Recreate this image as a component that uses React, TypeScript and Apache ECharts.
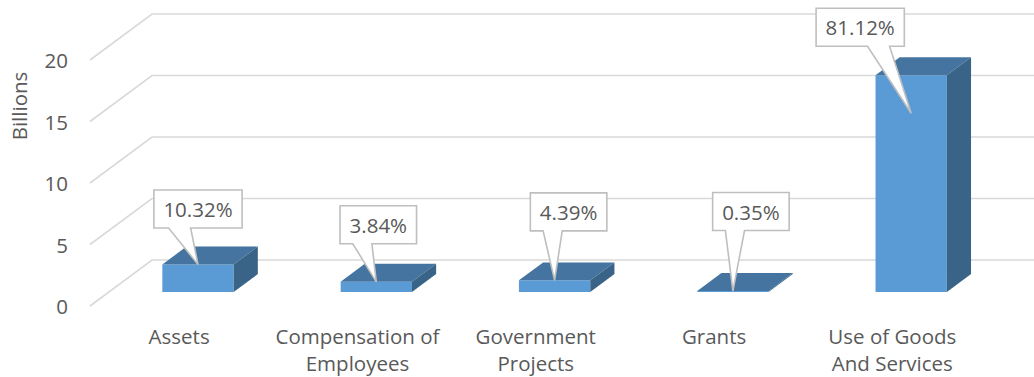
import React, { useEffect, useRef } from "react";
import * as echarts from "echarts";

// ---- data ----
const categories = [
  "Assets",
  "Compensation of\nEmployees",
  "Government\nProjects",
  "Grants",
  "Use of Goods\nAnd Services",
];
const values = [2.24, 0.83, 0.95, 0.08, 17.62]; // billions
const percentLabels = ["10.32%", "3.84%", "4.39%", "0.35%", "81.12%"];
const yTicks = [0, 5, 10, 15, 20];

// ---- layout (not data) ----
const calloutOffsets = [
  [0, -55.5],
  [2, -57],
  [14, -68.5],
  [18, -79.5],
  [-51, -48],
];
const calloutTipDy = [0, 0, 0, 0, 38];

const FONT = '"Open Sans", sans-serif';
const FS = 20.5;
const TXT = "#595959";
const GRID_C = "#D9D9D9";
const FRONT_C = "#5B9BD5";
const TOP_C = "#44749F";
const SIDE_C = "#3A6487";
const WALL_DX = 62;
const WALL_DY = -46;
const FRONT_F = 0.304;
const BAR_DEPTH = 0.39;

let measureCtx: CanvasRenderingContext2D | null = null;
function textWidth(s: string): number {
  if (!measureCtx) {
    measureCtx = document.createElement("canvas").getContext("2d");
  }
  if (!measureCtx) return s.length * FS * 0.6;
  measureCtx.font = `${FS}px "Open Sans"`;
  return measureCtx.measureText(s).width;
}

export default function App() {
  const ref = useRef<HTMLDivElement>(null);

  useEffect(() => {
    if (!ref.current) return;
    const chart = echarts.init(ref.current, undefined, { renderer: "svg" });

    const renderGrid = (params: any, api: any) => {
      const t = api.value(1);
      const y = api.coord([0, t])[1];
      const slot = api.size([1, 0])[0];
      const x0 = api.coord([0, 0])[0] - slot / 2;
      const xEnd = x0 + slot * categories.length + WALL_DX;
      return {
        type: "polyline",
        shape: {
          points: [
            [x0, y],
            [x0 + WALL_DX, y + WALL_DY],
            [xEnd, y + WALL_DY],
          ],
        },
        style: { stroke: GRID_C, lineWidth: 1.6, fill: "none" },
      };
    };

    const barGeom = (api: any) => {
      const idx = api.value(0);
      const v = api.value(1);
      const [cx, y0] = api.coord([idx, 0]);
      const y1 = api.coord([idx, v])[1];
      const slot = api.size([1, 0])[0];
      const w = slot * 0.4;
      const fx = WALL_DX * FRONT_F;
      const fy = WALL_DY * FRONT_F;
      return {
        idx,
        l: cx - w / 2 + fx,
        r: cx + w / 2 + fx,
        cx: cx + fx,
        b: y0 + fy,
        t: y1 + fy,
        w,
      };
    };

    const renderBar = (params: any, api: any) => {
      const g = barGeom(api);
      const ddx = WALL_DX * BAR_DEPTH;
      const ddy = WALL_DY * BAR_DEPTH;
      return {
        type: "group",
        children: [
          {
            type: "rect",
            shape: { x: g.l, y: g.t, width: g.w, height: Math.max(0, g.b - g.t) },
            style: { fill: FRONT_C },
          },
          {
            type: "polygon",
            shape: {
              points: [
                [g.l, g.t],
                [g.r, g.t],
                [g.r + ddx, g.t + ddy],
                [g.l + ddx, g.t + ddy],
              ],
            },
            style: { fill: TOP_C },
          },
          {
            type: "polygon",
            shape: {
              points: [
                [g.r, g.t],
                [g.r, g.b],
                [g.r + ddx, g.b + ddy],
                [g.r + ddx, g.t + ddy],
              ],
            },
            style: { fill: SIDE_C },
          },
        ],
      };
    };

    const renderCallout = (params: any, api: any) => {
      const g = barGeom(api);
      const i = g.idx;
      const label = percentLabels[i];
      const bw = textWidth(label) + 19;
      const bh = 38;
      const bcx = g.cx + calloutOffsets[i][0];
      const bcy = g.t + calloutOffsets[i][1];
      const L = bcx - bw / 2;
      const R = bcx + bw / 2;
      const T = bcy - bh / 2;
      const B = bcy + bh / 2;
      const tipX = g.cx;
      const tipY = g.t + calloutTipDy[i];
      let b1: number, b2: number;
      if (tipX > bcx + 1) {
        b1 = L + (bw * 7) / 12;
        b2 = L + (bw * 10) / 12;
      } else {
        b1 = L + (bw * 2) / 12;
        b2 = L + (bw * 5) / 12;
      }
      return {
        type: "group",
        children: [
          {
            type: "polygon",
            shape: {
              points: [
                [L, T],
                [R, T],
                [R, B],
                [b2, B],
                [tipX, tipY],
                [b1, B],
                [L, B],
              ],
            },
            style: { fill: "#FFFFFF", stroke: "#BFBFBF", lineWidth: 1.6 },
          },
          {
            type: "text",
            x: bcx,
            y: bcy,
            style: {
              text: label,
              fill: TXT,
              fontSize: FS,
              fontFamily: FONT,
              align: "center",
              verticalAlign: "middle",
            },
          },
        ],
      };
    };

    const barData = categories.map((_, i) => [i, values[i]]);

    chart.setOption({
      animation: false,
      grid: {
        left: 90,
        right: 52.5,
        top: 60,
        bottom: 71,
        containLabel: false,
        outerBoundsMode: "none",
      },
      xAxis: {
        type: "category",
        data: categories,
        axisLine: { show: false },
        axisTick: { show: false },
        splitLine: { show: false },
        axisLabel: {
          color: TXT,
          fontSize: FS,
          fontFamily: FONT,
          lineHeight: 27,
          margin: 16,
          interval: 0,
        },
      },
      yAxis: {
        type: "value",
        min: 0,
        max: 20,
        interval: 5,
        axisLine: { show: false },
        axisTick: { show: false },
        splitLine: { show: false },
        axisLabel: {
          color: TXT,
          fontSize: FS,
          fontFamily: FONT,
          margin: 22,
        },
      },
      graphic: [
        {
          type: "text",
          x: 19,
          y: 106,
          rotation: Math.PI / 2,
          style: {
            text: "Billions",
            fill: TXT,
            fontSize: FS,
            fontFamily: FONT,
            align: "center",
            verticalAlign: "middle",
          },
        },
      ],
      series: [
        {
          type: "custom",
          z: 1,
          clip: false,
          silent: true,
          renderItem: renderGrid,
          data: yTicks.map((t) => [0, t]),
        },
        {
          type: "custom",
          z: 2,
          clip: false,
          renderItem: renderBar,
          data: barData,
        },
        {
          type: "custom",
          z: 3,
          clip: false,
          renderItem: renderCallout,
          data: barData,
        },
      ],
    });

    return () => chart.dispose();
  }, []);

  return (
    <div
      ref={ref}
      style={{ position: "absolute", left: 0, top: 0, width: 1034, height: 377, background: "#fff" }}
    />
  );
}
